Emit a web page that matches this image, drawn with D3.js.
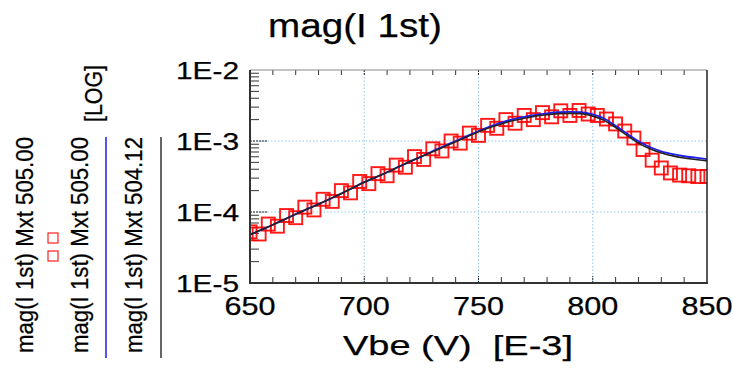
<!DOCTYPE html>
<html>
<head>
<meta charset="utf-8">
<script src="https://cdn.jsdelivr.net/npm/d3@7"></script>
<style>
  body { margin: 0; background: #fff; }
  text { font-family: Arial, "Liberation Sans", sans-serif; fill: #000; stroke: #000; stroke-width: 0.25px; }
</style>
</head>
<body>
<div id="chart"></div>
<script>
// Vbe in mV (axis shows [E-3])
const lineVbe = [650, 655, 660, 665, 670, 675, 680, 685, 690, 695, 700, 705, 710, 715, 720, 725, 730, 735, 740, 745,
  750, 755, 760, 765, 770, 775, 780, 785, 790, 795, 800, 805, 810, 815, 820, 825, 830, 835, 840, 845, 850];

// Mxt 504.12 (black)
const blackMag = [4.79e-5, 5.62e-5, 6.61e-5, 7.85e-5, 9.33e-5, 1.10e-4, 1.29e-4, 1.53e-4, 1.82e-4, 2.19e-4,
  2.63e-4, 3.09e-4, 3.63e-4, 4.32e-4, 5.13e-4, 6.03e-4, 7.08e-4, 8.32e-4, 9.77e-4, 1.15e-3,
  1.35e-3, 1.55e-3, 1.74e-3, 1.93e-3, 2.09e-3, 2.24e-3, 2.34e-3, 2.43e-3, 2.45e-3, 2.43e-3,
  2.24e-3, 1.95e-3, 1.55e-3, 1.20e-3, 9.33e-4, 7.76e-4, 6.76e-4, 6.17e-4, 5.75e-4, 5.50e-4, 5.25e-4];

// Mxt 505.00 (blue)
const blueMag = [4.79e-5, 5.62e-5, 6.61e-5, 7.85e-5, 9.33e-5, 1.10e-4, 1.29e-4, 1.53e-4, 1.82e-4, 2.19e-4,
  2.63e-4, 3.09e-4, 3.63e-4, 4.32e-4, 5.13e-4, 6.03e-4, 7.24e-4, 8.51e-4, 1.00e-3, 1.17e-3,
  1.38e-3, 1.60e-3, 1.82e-3, 2.02e-3, 2.19e-3, 2.34e-3, 2.45e-3, 2.54e-3, 2.57e-3, 2.54e-3,
  2.37e-3, 2.07e-3, 1.64e-3, 1.27e-3, 9.89e-4, 8.22e-4, 7.16e-4, 6.53e-4, 6.10e-4, 5.82e-4, 5.56e-4];

// Mxt 505.00 measured (red squares), two interleaved sweeps
const measVbeA = [650, 658, 666, 674, 682, 690, 698, 706, 714, 722, 730, 738, 746, 754, 762, 770, 778, 786, 794,
  802, 810, 818, 826, 834, 842, 850];
const measMagA = [5.25e-5, 6.76e-5, 8.91e-5, 1.17e-4, 1.51e-4, 2.00e-4, 2.69e-4, 3.47e-4, 4.57e-4, 6.03e-4,
  7.76e-4, 1.00e-3, 1.29e-3, 1.66e-3, 2.00e-3, 2.29e-3, 2.51e-3, 2.66e-3, 2.69e-3,
  2.29e-3, 1.74e-3, 1.10e-3, 5.37e-4, 3.55e-4, 3.24e-4, 3.16e-4];
const measVbeB = [654, 662, 670, 678, 686, 694, 702, 710, 718, 726, 734, 742, 750, 758, 766, 774, 782, 790,
  798, 806, 814, 822, 830, 838, 846];
const measMagB = [4.90e-5, 6.31e-5, 8.32e-5, 1.07e-4, 1.41e-4, 1.86e-4, 2.51e-4, 3.24e-4, 4.27e-4, 5.50e-4,
  7.24e-4, 9.33e-4, 1.20e-3, 1.51e-3, 1.78e-3, 2.00e-3, 2.19e-3, 2.29e-3,
  2.40e-3, 2.04e-3, 1.38e-3, 7.59e-4, 4.17e-4, 3.31e-4, 3.16e-4];

const xTicks = [650, 700, 750, 800, 850];
const yTicks = [1e-2, 1e-3, 1e-4, 1e-5];
const yTickLabels = ['1E-2', '1E-3', '1E-4', '1E-5'];
const legendLabels = ['mag(I 1st) Mxt 505.00', 'mag(I 1st) Mxt 505.00', 'mag(I 1st) Mxt 504.12'];

const width = 733, height = 369;
const plot = { left: 250, right: 707, top: 70, bottom: 283 };

const svg = d3.select('#chart').append('svg')
  .attr('width', width)
  .attr('height', height);

const x = d3.scaleLinear().domain([650, 850]).range([plot.left, plot.right]);
const y = d3.scaleLog().domain([1e-5, 1e-2]).range([plot.bottom, plot.top]);

svg.append('clipPath').attr('id', 'clip')
  .append('rect')
  .attr('x', plot.left).attr('y', plot.top)
  .attr('width', plot.right - plot.left).attr('height', plot.bottom - plot.top);

// GRID
const grid = svg.append('g');
grid.selectAll('.gx')
  .data(xTicks.slice(1, -1))
  .join('line')
  .attr('x1', d => x(d)).attr('x2', d => x(d))
  .attr('y1', plot.top).attr('y2', plot.bottom)
  .attr('stroke', '#8fc8ee').attr('stroke-width', 1).attr('stroke-dasharray', '1.5,2');
grid.selectAll('.gy')
  .data(yTicks.slice(1, -1))
  .join('line')
  .attr('x1', plot.left).attr('x2', plot.right)
  .attr('y1', d => y(d)).attr('y2', d => y(d))
  .attr('stroke', '#8fc8ee').attr('stroke-width', 1).attr('stroke-dasharray', '1.5,2');

// MINOR TICKS
const minorX = d3.range(660, 850, 10).filter(v => !xTicks.includes(v));
const ticks = svg.append('g').attr('stroke', '#333').attr('stroke-width', 1);
ticks.selectAll('.tb')
  .data(minorX)
  .join('line')
  .attr('x1', d => x(d)).attr('x2', d => x(d))
  .attr('y1', plot.bottom).attr('y2', plot.bottom - 6);
ticks.selectAll('.tt')
  .data(minorX)
  .join('line')
  .attr('x1', d => x(d)).attr('x2', d => x(d))
  .attr('y1', plot.top).attr('y2', plot.top + 5);

const minorY = [];
[1e-5, 1e-4, 1e-3].forEach(dec => {
  for (let k = 2; k <= 9; k++) minorY.push(dec * k);
});
ticks.selectAll('.tl')
  .data(minorY)
  .join('line')
  .attr('x1', plot.left).attr('x2', plot.left + 9)
  .attr('y1', d => y(d)).attr('y2', d => y(d));

// major ticks (dotted, darker)
const majors = svg.append('g').attr('stroke', '#222').attr('stroke-width', 1).attr('stroke-dasharray', '2,1');
majors.selectAll('.mb')
  .data(xTicks.slice(1, -1))
  .join('line')
  .attr('x1', d => x(d)).attr('x2', d => x(d))
  .attr('y1', plot.bottom).attr('y2', plot.bottom - 7);
majors.selectAll('.mt')
  .data(xTicks.slice(1, -1))
  .join('line')
  .attr('x1', d => x(d)).attr('x2', d => x(d))
  .attr('y1', plot.top).attr('y2', plot.top + 6);
majors.selectAll('.ml')
  .data(yTicks.slice(1, -1))
  .join('line')
  .attr('x1', plot.left).attr('x2', plot.left + 17)
  .attr('y1', d => y(d)).attr('y2', d => y(d));

// DATA
const body = svg.append('g').attr('clip-path', 'url(#clip)');

const sq = 13;
const measA = measVbeA.map((v, i) => ({ v, m: measMagA[i] }));
const measB = measVbeB.map((v, i) => ({ v, m: measMagB[i] }));
[measA, measB].forEach(set => {
  body.append('g')
    .selectAll('rect')
    .data(set)
    .join('rect')
    .attr('x', d => x(d.v) - sq / 2)
    .attr('y', d => y(d.m) - sq / 2)
    .attr('width', sq).attr('height', sq)
    .attr('fill', 'none')
    .attr('stroke', '#ff0000')
    .attr('stroke-opacity', 0.9)
    .attr('stroke-width', 1.9);
});

const line = d3.line()
  .x(d => x(d[0]))
  .y(d => y(d[1]))
  .curve(d3.curveMonotoneX);

body.append('path')
  .attr('d', line(lineVbe.map((v, i) => [v, blueMag[i]])))
  .attr('fill', 'none')
  .attr('stroke', '#1d1df0')
  .attr('stroke-width', 1.8);

body.append('path')
  .attr('d', line(lineVbe.map((v, i) => [v, blackMag[i]])))
  .attr('fill', 'none')
  .attr('stroke', '#222')
  .attr('stroke-width', 1.6);

// FRAME
svg.append('line')
  .attr('x1', plot.left).attr('x2', plot.right)
  .attr('y1', plot.top).attr('y2', plot.top)
  .attr('stroke', '#888').attr('stroke-width', 1);
svg.append('line')
  .attr('x1', plot.right).attr('x2', plot.right)
  .attr('y1', plot.top).attr('y2', plot.bottom)
  .attr('stroke', '#222').attr('stroke-width', 1.5);
svg.append('line')
  .attr('x1', plot.left).attr('x2', plot.left)
  .attr('y1', plot.top).attr('y2', plot.bottom + 1)
  .attr('stroke', '#333').attr('stroke-width', 2);
svg.append('line')
  .attr('x1', plot.left - 1).attr('x2', plot.right + 1)
  .attr('y1', plot.bottom).attr('y2', plot.bottom)
  .attr('stroke', '#333').attr('stroke-width', 2);

// TICK LABELS
svg.append('g')
  .selectAll('text')
  .data(yTicks)
  .join('text')
  .attr('x', 239)
  .attr('y', d => y(d) + 8.5)
  .attr('text-anchor', 'end')
  .attr('font-size', '23px')
  .attr('textLength', 63)
  .attr('lengthAdjust', 'spacingAndGlyphs')
  .text((d, i) => yTickLabels[i]);

svg.append('g')
  .selectAll('text')
  .data(xTicks)
  .join('text')
  .attr('x', d => x(d))
  .attr('y', 315)
  .attr('text-anchor', 'middle')
  .attr('font-size', '25px')
  .attr('textLength', 51)
  .attr('lengthAdjust', 'spacingAndGlyphs')
  .text(d => d);

// TITLES
svg.append('text')
  .attr('x', 268)
  .attr('y', 37)
  .attr('font-size', '34px')
  .attr('textLength', 174)
  .attr('lengthAdjust', 'spacingAndGlyphs')
  .text('mag(I 1st)');

svg.append('text')
  .attr('x', 343)
  .attr('y', 355)
  .attr('font-size', '28px')
  .attr('textLength', 230)
  .attr('lengthAdjust', 'spacingAndGlyphs')
  .style('white-space', 'pre')
  .text('Vbe (V)  [E-3]');

// LEGEND (rotated columns, glyphs a little wider across)
const legendX = [33, 88, 142];
svg.append('g')
  .selectAll('text')
  .data(legendLabels)
  .join('text')
  .attr('transform', (d, i) => `translate(${legendX[i]},353) scale(1.12,1) rotate(-90)`)
  .attr('font-size', '22px')
  .attr('textLength', 216)
  .attr('lengthAdjust', 'spacingAndGlyphs')
  .text(d => d);

svg.append('text')
  .attr('transform', 'translate(102,122) scale(1.12,1) rotate(-90)')
  .attr('font-size', '22px')
  .attr('textLength', 57)
  .attr('lengthAdjust', 'spacingAndGlyphs')
  .text('[LOG]');

svg.append('g')
  .selectAll('rect')
  .data([238, 256])
  .join('rect')
  .attr('x', 48).attr('y', d => d - 5)
  .attr('width', 10).attr('height', 10)
  .attr('fill', 'none')
  .attr('stroke', '#ff2020')
  .attr('stroke-width', 1.2);

svg.append('line')
  .attr('x1', 106).attr('x2', 106)
  .attr('y1', 137).attr('y2', 358)
  .attr('stroke', '#1d1df0').attr('stroke-width', 1.5);
svg.append('line')
  .attr('x1', 161).attr('x2', 161)
  .attr('y1', 137).attr('y2', 358)
  .attr('stroke', '#555').attr('stroke-width', 1.8);
</script>
</body>
</html>
